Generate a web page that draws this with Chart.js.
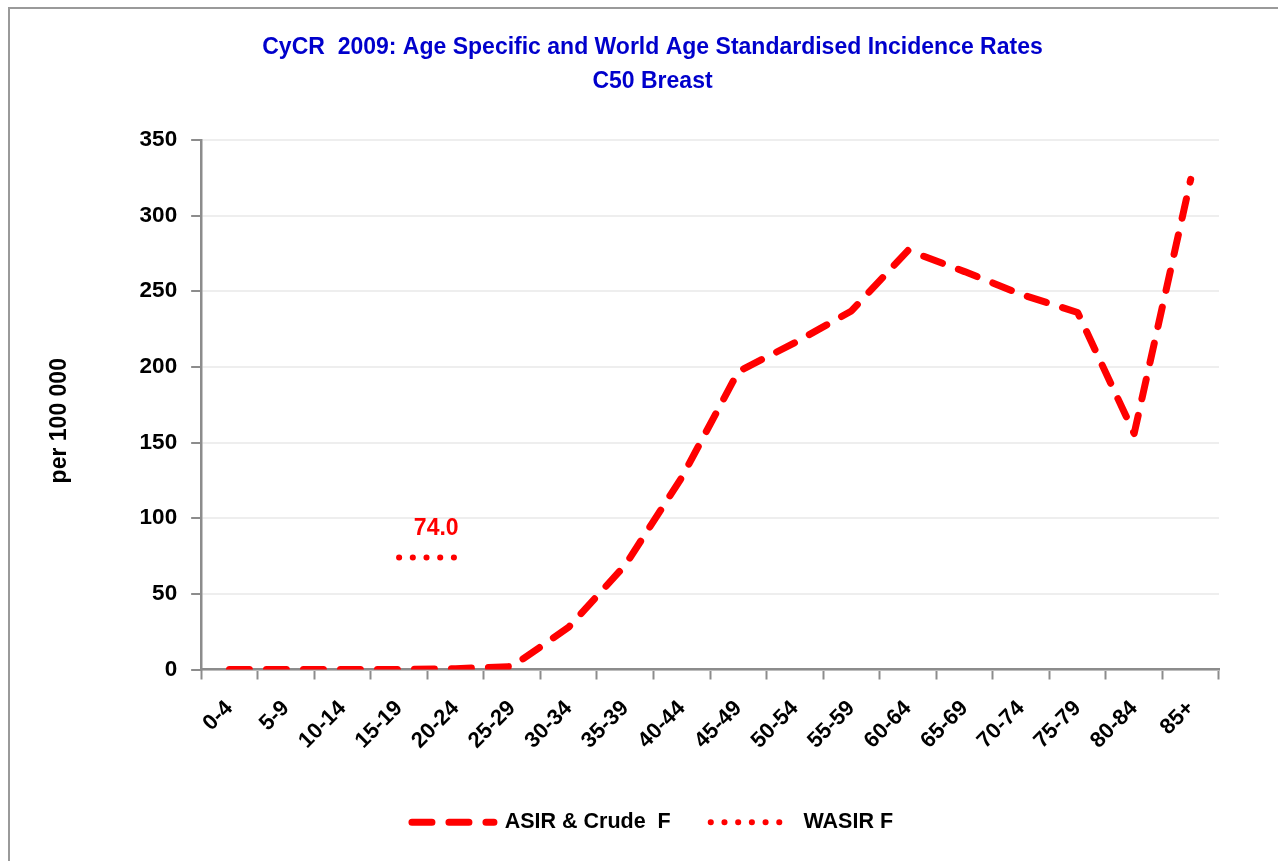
<!DOCTYPE html>
<html>
<head>
<meta charset="utf-8">
<script src="https://cdn.jsdelivr.net/npm/chart.js@4.4.1/dist/chart.umd.min.js"></script>
<style>
  body { margin: 0; background: #fff; }
  #frame {
    position: absolute; left: 8px; top: 7px; width: 1300px; height: 900px;
    border-left: 2px solid #9a9a9a; border-top: 2px solid #9a9a9a;
  }
  #wrap { position: absolute; left: 0; top: 0; width: 1278px; height: 861px; }
</style>
</head>
<body>
<div id="frame"></div>
<div id="wrap"><canvas id="chart"></canvas></div>
<script>
// datos
const ageGroups = ['0-4', '5-9', '10-14', '15-19', '20-24', '25-29', '30-34', '35-39', '40-44',
    '45-49', '50-54', '55-59', '60-64', '65-69', '70-74', '75-79', '80-84', '85+'];
const asirCrude = [0, 0, 0, 0, 0.5, 2, 28, 69, 127, 197, 216, 237, 277, 263, 248, 236, 156, 324];
const wasir = [null, null, null, 74.0, 74.0, null, null, null, null,
    null, null, null, null, null, null, null, null, null];
const yTicks = [0, 50, 100, 150, 200, 250, 300, 350];

const fontFamily = '"Liberation Sans", Arial, sans-serif';

// etiqueta del valor WASIR
const wasirLabel = {
    id: 'wasirLabel',
    afterDatasetsDraw(chart) {
        const meta = chart.getDatasetMeta(1);
        const last = meta.data[4];
        const ctx = chart.ctx;
        ctx.save();
        ctx.font = 'bold 23px ' + fontFamily;
        ctx.fillStyle = '#FF0000';
        ctx.textAlign = 'right';
        ctx.textBaseline = 'middle';
        ctx.fillText(wasir[4].toFixed(1), last.x + 3, last.y - 29);
        ctx.restore();
    }
};

const chart = new Chart(document.getElementById('chart'), {
    type: 'line',
    data: {
        labels: ageGroups,
        datasets: [{
            label: 'ASIR & Crude  F',
            data: asirCrude,
            borderColor: '#FF0000',
            backgroundColor: '#FF0000',
            borderWidth: 7,
            borderDash: [20, 17],
            borderCapStyle: 'round',
            borderJoinStyle: 'round',
            pointRadius: 0,
            tension: 0
        }, {
            label: 'WASIR F',
            data: wasir,
            borderColor: '#FF0000',
            backgroundColor: '#FF0000',
            borderWidth: 6,
            borderDash: [0.1, 13.6],
            borderCapStyle: 'round',
            pointRadius: 0,
            spanGaps: false
        }]
    },
    options: {
        responsive: true,
        maintainAspectRatio: false,
        animation: false,
        layout: { padding: { left: 86, right: 59, top: 7, bottom: 18 } },
        plugins: {
            title: {
                display: true,
                text: ['CyCR  2009: Age Specific and World Age Standardised Incidence Rates', 'C50 Breast'],
                color: '#0000CC',
                font: { family: fontFamily, size: 23, weight: 'bold', lineHeight: 1.478 },
                padding: { top: 24, bottom: 41 }
            },
            legend: {
                position: 'bottom',
                labels: {
                    usePointStyle: true,
                    pointStyleWidth: 82,
                    color: '#000',
                    padding: 40,
                    font: { family: fontFamily, size: 21.5, weight: 'bold' },
                    // muestra de línea con el mismo trazo que la serie
                    generateLabels(chart) {
                        return chart.data.datasets.map((ds, i) => ({
                            text: ds.label,
                            fillStyle: ds.borderColor,
                            strokeStyle: ds.borderColor,
                            lineWidth: ds.borderWidth,
                            lineDash: ds.borderDash,
                            lineCap: ds.borderCapStyle,
                            pointStyle: 'line',
                            fontColor: '#000',
                            hidden: false,
                            datasetIndex: i
                        }));
                    }
                }
            },
            tooltip: { enabled: false }
        },
        scales: {
            x: {
                offset: true,
                afterFit(scale) {
                    scale.height = 102;
                },
                grid: {
                    offset: true,
                    drawOnChartArea: false,
                    tickLength: 10,
                    tickColor: '#8c8c8c',
                    tickWidth: 2
                },
                border: { color: '#8c8c8c', width: 2.5 },
                ticks: {
                    minRotation: 45,
                    maxRotation: 45,
                    autoSkip: false,
                    color: '#000',
                    padding: 16,
                    font: { family: fontFamily, size: 22, weight: 'bold' }
                }
            },
            y: {
                min: 0,
                max: 350,
                afterBuildTicks(scale) {
                    scale.ticks = yTicks.map(v => ({ value: v }));
                },
                grid: {
                    color: '#eeeeee',
                    lineWidth: 2,
                    tickLength: 10,
                    tickColor: '#8c8c8c',
                    tickWidth: 2
                },
                border: { color: '#8c8c8c', width: 2.5 },
                ticks: {
                    color: '#000',
                    padding: 14,
                    font: { family: fontFamily, size: 22.5, weight: 'bold' }
                },
                title: {
                    display: true,
                    text: 'per 100 000     ',
                    color: '#000',
                    padding: { top: -40, bottom: 52 },
                    font: { family: fontFamily, size: 23, weight: 'bold' }
                }
            }
        }
    },
    plugins: [wasirLabel]
});
</script>
</body>
</html>
